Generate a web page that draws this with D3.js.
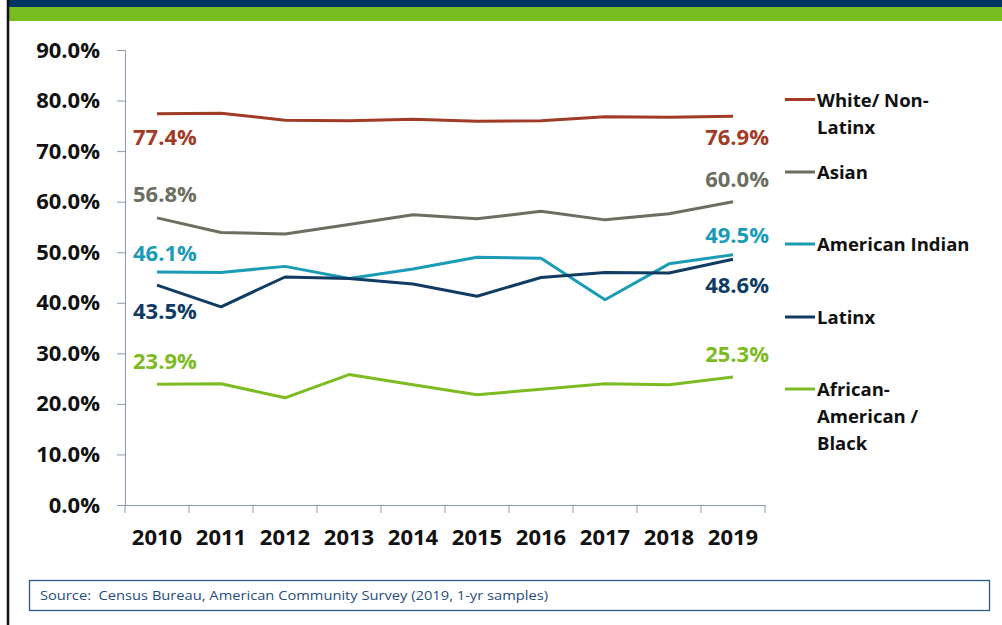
<!DOCTYPE html>
<html>
<head>
<meta charset="utf-8">
<script src="https://cdn.jsdelivr.net/npm/d3@7/dist/d3.min.js"></script>
<style>
  html, body { margin: 0; padding: 0; background: #fff; }
  svg { display: block; }
</style>
</head>
<body>
<svg id="chart" width="1002" height="625"></svg>
<script>
const years = ["2010","2011","2012","2013","2014","2015","2016","2017","2018","2019"];
const yTicks = [0, 0.1, 0.2, 0.3, 0.4, 0.5, 0.6, 0.7, 0.8, 0.9];

const seriesNames = ["White/ Non-Latinx", "Asian", "American Indian", "Latinx", "African-American / Black"];
const whiteNonLatinx = [77.4, 77.5, 76.1, 76.0, 76.3, 75.9, 76.0, 76.8, 76.7, 76.9];
const asian          = [56.8, 53.9, 53.6, 55.5, 57.4, 56.6, 58.1, 56.4, 57.6, 60.0];
const americanIndian = [46.1, 46.0, 47.2, 44.8, 46.7, 49.0, 48.8, 40.6, 47.7, 49.5];
const latinx         = [43.5, 39.2, 45.1, 44.8, 43.7, 41.3, 45.0, 46.0, 45.9, 48.6];
const africanAmerican= [23.9, 24.0, 21.2, 25.8, 23.8, 21.8, 22.9, 24.0, 23.8, 25.3];

const seriesValues = [whiteNonLatinx, asian, americanIndian, latinx, africanAmerican];
const seriesColors = ["#a23b26", "#6b6f5f", "#1a9cb6", "#103b63", "#7cbc22"];
const legendLines = [["White/ Non-", "Latinx"], ["Asian"], ["American Indian"], ["Latinx"], ["African-", "American /", "Black"]];
// label vertical offsets (px) from first / last point
const firstLabelDy = [31, -16, -11, 34, -15.5];
const lastLabelDy  = [28.5, -15, -12, 34, -15.5];

const svg = d3.select("#chart");
const FONT = "'Open Sans', 'DejaVu Sans', sans-serif";

// header bands and frame
svg.append("rect").attr("x", 9).attr("y", 0).attr("width", 993).attr("height", 7).attr("fill", "#003462");
svg.append("rect").attr("x", 9).attr("y", 7).attr("width", 993).attr("height", 14).attr("fill", "#78bd20");
svg.append("line").attr("x1", 8).attr("x2", 8).attr("y1", 0).attr("y2", 625)
   .attr("stroke", "#111").attr("stroke-width", 2.5);

const x = d3.scaleBand().domain(years).range([125, 765]).padding(0);
const y = d3.scaleLinear().domain([0, 0.9]).range([505, 50]);

const axisColor = "#8d98b2";

// Y axis
const yAxis = svg.append("g").attr("transform", "translate(125,0)")
  .call(d3.axisLeft(y).tickValues(yTicks).tickFormat(d3.format(".1%")).tickSize(8).tickPadding(17));
yAxis.select(".domain").attr("stroke", axisColor).attr("stroke-width", 1);
yAxis.selectAll(".tick line").attr("stroke", axisColor);
yAxis.selectAll(".tick text").attr("font-family", FONT).attr("font-weight", 700)
  .attr("font-size", 22).attr("fill", "#111");

// X axis
const xAxis = svg.append("g").attr("transform", "translate(0,505)")
  .call(d3.axisBottom(x).tickSize(0).tickPadding(24).tickSizeOuter(0));
xAxis.select(".domain").attr("stroke", axisColor).attr("stroke-width", 1);
xAxis.selectAll(".tick text").attr("font-family", FONT).attr("font-weight", 700)
  .attr("font-size", 22).attr("fill", "#111");
// boundary ticks
const bounds = years.map(d => x(d)).concat([x.range()[1]]);
svg.append("g").selectAll("line").data(bounds).join("line")
  .attr("x1", d => d).attr("x2", d => d).attr("y1", 505).attr("y2", 513)
  .attr("stroke", axisColor);

// Lines
const line = d3.line().x((d, i) => x(years[i]) + x.bandwidth() / 2).y(d => y(d / 100));
seriesValues.forEach((vals, si) => {
  svg.append("path").datum(vals).attr("d", line)
    .attr("fill", "none").attr("stroke", seriesColors[si]).attr("stroke-width", 3)
    .attr("stroke-linejoin", "round");
});

// Endpoint labels
const fmt = d => d.toFixed(1) + "%";
seriesValues.forEach((vals, si) => {
  svg.append("text")
    .attr("x", x(years[0]) + 8)
    .attr("y", y(vals[0] / 100) + firstLabelDy[si])
    .attr("font-family", FONT).attr("font-weight", 700).attr("font-size", 22)
    .attr("fill", seriesColors[si]).text(fmt(vals[0]));
  const n = vals.length - 1;
  svg.append("text")
    .attr("x", x(years[n]) + x.bandwidth() / 2 + 36)
    .attr("y", y(vals[n] / 100) + lastLabelDy[si])
    .attr("text-anchor", "end")
    .attr("font-family", FONT).attr("font-weight", 700).attr("font-size", 22)
    .attr("fill", seriesColors[si]).text(fmt(vals[n]));
});

// Legend
const legendY = [99.5, 172, 244, 317, 389];
const lg = svg.append("g");
seriesNames.forEach((name, si) => {
  lg.append("line").attr("x1", 785).attr("x2", 815)
    .attr("y1", legendY[si]).attr("y2", legendY[si])
    .attr("stroke", seriesColors[si]).attr("stroke-width", 3);
  const t = lg.append("text").attr("x", 817).attr("y", legendY[si] + 7)
    .attr("font-family", FONT).attr("font-weight", 700).attr("font-size", 18.5).attr("fill", "#111");
  legendLines[si].forEach((ln, li) => {
    t.append("tspan").attr("x", 817).attr("dy", li === 0 ? 0 : 27).text(ln);
  });
});

// Source box
svg.append("rect").attr("x", 29.5).attr("y", 580.5).attr("width", 960).attr("height", 30)
  .attr("fill", "#fff").attr("stroke", "#2d5689").attr("stroke-width", 1.3);
svg.append("text").attr("x", 40).attr("y", 600)
  .attr("font-family", FONT).attr("font-size", 13.5).attr("fill", "#1f4d7e")
  .attr("xml:space", "preserve")
  .attr("textLength", 508).attr("lengthAdjust", "spacingAndGlyphs")
  .text("Source:  Census Bureau, American Community Survey (2019, 1-yr samples)");
</script>
</body>
</html>
